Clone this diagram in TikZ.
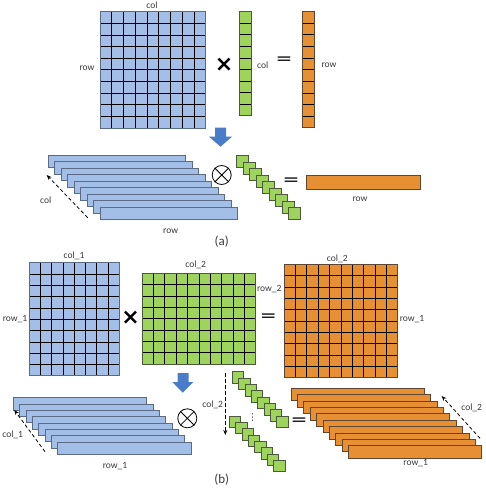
\documentclass[tikz,border=0pt]{standalone}
\usepackage{fontspec}
\setmainfont{Carlito}
\newfontfamily\symfont{DejaVu Sans}
\usetikzlibrary{arrows.meta}
\definecolor{mblue}{HTML}{A3BEE7}
\definecolor{mblueedge}{HTML}{5B6B85}
\definecolor{mgreen}{HTML}{9ED35E}
\definecolor{mgreenedge}{HTML}{4A5A3A}
\definecolor{morange}{HTML}{E69033}
\definecolor{morangeedge}{HTML}{5E4630}
\definecolor{arrblue}{HTML}{4A7CC9}
\definecolor{txt}{HTML}{3A3A3A}
\newcommand{\gridm}[8]{% x0,y0,ncols,nrows,cw,ch,fill,edge
  \fill[#7] (#1,#2) rectangle ++({#3*#5},{#4*#6});
  \foreach \i in {1,...,#3} {\draw[gridline] ({#1+\i*#5-#5},#2) -- ++(0,{#4*#6});}
  \foreach \j in {1,...,#4} {\draw[gridline] (#1,{#2+\j*#6-#6}) -- ++({#3*#5},0);}
  \draw[#8, line width=0.8pt] (#1,#2) rectangle ++({#3*#5},{#4*#6});
}
\newcommand{\stackbars}[9]{% x0,y0,n,step,w,h,fill,edge,(unused)
  \foreach \i in {1,...,#3} {\filldraw[fill=#7, draw=#8, line width=0.7pt] ({#1+(\i-1)*#4},{#2+(\i-1)*#4}) rectangle ++(#5,#6);}
}
\newcommand{\otimesat}[3]{% x,y,name
  \node[circle, draw, line width=0.8pt, minimum size=19pt, inner sep=0pt] (#3) at (#1,#2) {};
  \draw[line width=0.8pt] (#3.north west) -- (#3.south east) (#3.north east) -- (#3.south west);
}
\newcommand{\eqsign}{\scalebox{1.55}[1]{=}}
\tikzset{
  gridline/.style={black, line width=0.55pt},
  lbl/.style={text=txt, font=\fontsize{9.5}{10}\selectfont, inner sep=0pt},
  capt/.style={text=txt, font=\fontsize{13}{14}\selectfont, inner sep=0pt},
  timesop/.style={font=\symfont\bfseries\fontsize{22}{22}\selectfont, inner sep=0pt},
  eqop/.style={font=\fontsize{20}{20}\selectfont, inner sep=0pt},
  dasharrow/.style={dashed, line width=0.8pt, dash pattern=on 3.5pt off 2.5pt, -{Stealth[length=5pt,width=4pt]}},
  blockarrow/.style={fill=arrblue, draw=none},
}
\begin{document}
\begin{tikzpicture}[x=1pt,y=-1pt]
\useasboundingbox (0,0) rectangle (485,489);
\fill[white] (0,0) rectangle (485,489);
% ---------------- (a) ----------------
\gridm{100}{11.5}{9}{10}{11.74}{11.65}{mblue}{mblueedge}
\gridm{239.3}{11.5}{1}{9}{11.7}{11.6}{mgreen}{mgreenedge}
\gridm{302.7}{11.5}{1}{10}{11.6}{11.62}{morange}{morangeedge}
\node[lbl] (acol) at (152,5) {col};
\node[lbl] (arow) at (87,68) {row};
\node[timesop] (atimes) at (224,65) {×};
\node[lbl] (acol2) at (262.7,65) {col};
\node[eqop] (aeq) at (284,61) {\eqsign};
\node[lbl] (arow2) at (329,65) {row};
% block arrow
\fill[blockarrow] (215,127.7) -- (226,127.7) -- (226,136.7) -- (232,136.7) -- (220.5,146.7) -- (209,136.7) -- (215,136.7) -- cycle;
\stackbars{48.3}{155}{9}{6.5}{137.3}{12.7}{mblue}{mblueedge}{}
\coordinate (ad1) at (87.7,217.7);
\coordinate (ad2) at (46.7,175);
\draw[dasharrow] (ad1) -- (ad2);
\node[lbl] (acol3) at (45.7,200) {col};
\node[lbl] (arow3) at (170.7,231.7) {row};
\otimesat{221.7}{175}{aot}
\foreach \i in {1,...,9} {\filldraw[fill=mgreen, draw=mgreenedge, line width=0.7pt] ({236.7+(\i-1)*6.5},{155.7+(\i-1)*6.5}) rectangle ++(11.7,11.7);}
\node[eqop] (aeq2) at (291,182.5) {\eqsign};
\filldraw[fill=morange, draw=morangeedge, line width=0.7pt] (306,175) rectangle (420,189);
\node[lbl] (arow4) at (360,199.3) {row};
\node[capt] (capa) at (221.7,241.7) {(a)};
% ---------------- (b) ----------------
\gridm{29}{262.7}{8}{10}{11.29}{11.3}{mblue}{mblueedge}
\gridm{142}{273.3}{10}{8}{11.37}{11.34}{mgreen}{mgreenedge}
\gridm{284}{264.3}{10}{10}{11.37}{11.34}{morange}{morangeedge}
\node[lbl] (bcol1) at (74,256) {col\_1};
\node[lbl] (brow1) at (15,318.7) {row\_1};
\node[timesop] (btimes) at (130.7,317.7) {×};
\node[lbl] (bcol2) at (195.7,265) {col\_2};
\node[lbl] (brow2) at (269.3,289) {row\_2};
\node[eqop] (beq) at (268.3,318.5) {\eqsign};
\node[lbl] (bcol3) at (337.3,259.3) {col\_2};
\node[lbl] (brow3) at (412,319) {row\_1};
\fill[blockarrow] (177.5,373) -- (188.5,373) -- (188.5,382) -- (193.3,382) -- (182.8,392.7) -- (172.3,382) -- (177.5,382) -- cycle;
\stackbars{13.3}{397.7}{8}{6.33}{133.4}{12.3}{mblue}{mblueedge}{}
\coordinate (bd1) at (45,451.7);
\coordinate (bd2) at (14.3,410);
\draw[dasharrow] (bd1) -- (bd2);
\node[lbl] (bcol4) at (12.7,435) {col\_1};
\node[lbl] (brow4) at (115,466) {row\_1};
\otimesat{187.3}{418.3}{bot}
\coordinate (bv1) at (225.3,373.3);
\coordinate (bv2) at (225.3,435);
\draw[dasharrow] (bv1) -- (bv2);
\node[lbl] (bcol5) at (212.7,405) {col\_2};
\foreach \i in {1,...,8} {\filldraw[fill=mgreen, draw=mgreenedge, line width=0.7pt] ({232.3+(\i-1)*6.33},{371.7+(\i-1)*6.33}) rectangle ++(11.5,11.5);}
\foreach \i in {1,...,8} {\filldraw[fill=mgreen, draw=mgreenedge, line width=0.7pt] ({229.3+(\i-1)*6.33},{416+(\i-1)*6.33}) rectangle ++(11.5,11.5);}
\node[lbl] (bdots) at (252.7,417.3) {\symfont ⋮};
\node[eqop] (beq2) at (299,422) {\eqsign};
\stackbars{291}{388.3}{10}{6.37}{133.3}{12.5}{morange}{morangeedge}{}
\coordinate (bo1) at (480,438.3);
\coordinate (bo2) at (441.7,396);
\draw[dasharrow] (bo1) -- (bo2);
\node[lbl] (bcol6) at (471.7,408.3) {col\_2};
\node[lbl] (brow5) at (415.7,463.3) {row\_1};
\node[capt] (capb) at (221.7,480) {(b)};
\end{tikzpicture}
\end{document}
